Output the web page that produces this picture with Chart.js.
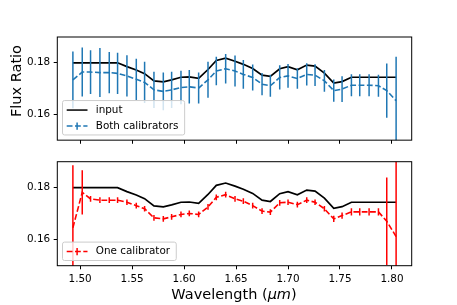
<!DOCTYPE html>
<html>
<head>
<meta charset="utf-8">
<script src="https://cdn.jsdelivr.net/npm/chart.js@4.4.0/dist/chart.umd.min.js"></script>
<style>
body { margin: 0; background: #fff; }
#wrap { position: relative; width: 457px; height: 305px; font-family: "DejaVu Sans", sans-serif; color: #000; }
#top { position: absolute; left: 0; top: 0; }
#bot { position: absolute; left: 0; top: 150px; }
#ylab { position: absolute; left: 16px; top: 81px; transform: translate(-50%, -50%) rotate(-90deg); font-size: 14.5px; white-space: nowrap; }
#xlab { position: absolute; left: 234px; top: 294px; transform: translate(-50%, -50%); font-size: 14.5px; white-space: nowrap; }
</style>
</head>
<body>
<div id="wrap">
  <canvas id="top" width="457" height="150"></canvas>
  <canvas id="bot" width="457" height="155"></canvas>
  <div id="ylab">Flux Ratio</div>
  <div id="xlab">Wavelength (<i>μm</i>)</div>
</div>
<script>
// wavelengths of the spectral channels (um)
const wavelength = [1.493, 1.502, 1.510, 1.519, 1.528, 1.536, 1.545, 1.554, 1.562, 1.571,
  1.580, 1.588, 1.597, 1.605, 1.614, 1.623, 1.631, 1.640, 1.649, 1.657,
  1.666, 1.675, 1.683, 1.692, 1.700, 1.709, 1.718, 1.726, 1.735, 1.744,
  1.752, 1.761, 1.769, 1.778, 1.787, 1.795, 1.804];

const inputFlux = [0.1800, 0.1800, 0.1800, 0.1800, 0.1800, 0.1800, 0.1785, 0.1772, 0.1758, 0.1730,
  0.1726, 0.1734, 0.1744, 0.1745, 0.1740, 0.1774, 0.1809, 0.1818, 0.1806, 0.1794,
  0.1778, 0.1752, 0.1747, 0.1777, 0.1785, 0.1773, 0.1791, 0.1787, 0.1760, 0.1721,
  0.1727, 0.1744, 0.1744, 0.1744, 0.1744, 0.1744, 0.1744];

const bothFlux = [0.1734, 0.1764, 0.1764, 0.1762, 0.1762, 0.1759, 0.1749, 0.1736, 0.1724, 0.1695,
  0.1689, 0.1695, 0.1704, 0.1707, 0.1702, 0.1734, 0.1768, 0.1777, 0.1768, 0.1755,
  0.1743, 0.1717, 0.1711, 0.1743, 0.1749, 0.1739, 0.1755, 0.1752, 0.1730, 0.1692,
  0.1698, 0.1713, 0.1713, 0.1713, 0.1711, 0.1692, 0.1653];

const bothErr = [0.0110, 0.0095, 0.0085, 0.0095, 0.0080, 0.0080, 0.0080, 0.0080, 0.0080, 0.0070,
  0.0073, 0.0070, 0.0065, 0.0065, 0.0060, 0.0070, 0.0055, 0.0057, 0.0060, 0.0056,
  0.0050, 0.0043, 0.0043, 0.0047, 0.0046, 0.0040, 0.0043, 0.0042, 0.0042, 0.0043,
  0.0050, 0.0043, 0.0043, 0.0043, 0.0043, 0.0105, 0.0170];

const oneFlux = [0.1646, 0.1782, 0.1757, 0.1752, 0.1752, 0.1752, 0.1744, 0.1731, 0.1719, 0.1684,
  0.1680, 0.1688, 0.1697, 0.1701, 0.1697, 0.1726, 0.1763, 0.1773, 0.1757, 0.1748,
  0.1731, 0.1710, 0.1706, 0.1742, 0.1744, 0.1735, 0.1752, 0.1744, 0.1719, 0.1680,
  0.1693, 0.1707, 0.1707, 0.1707, 0.1707, 0.1671, 0.1612];

const oneErr = [0.0240, 0.0085, 0.0011, 0.0011, 0.0011, 0.0011, 0.0011, 0.0011, 0.0011, 0.0011,
  0.0011, 0.0011, 0.0011, 0.0011, 0.0011, 0.0011, 0.0011, 0.0011, 0.0011, 0.0011,
  0.0011, 0.0011, 0.0011, 0.0011, 0.0011, 0.0011, 0.0011, 0.0011, 0.0011, 0.0012,
  0.0012, 0.0014, 0.0014, 0.0014, 0.0014, 0.0168, 0.0350];

const xTicks = [1.50, 1.55, 1.60, 1.65, 1.70, 1.75, 1.80];
const yTicks = [0.16, 0.18];

const FONT = '"DejaVu Sans", sans-serif';
const BLUE = '#1f77b4';
const RED = '#ff0000';
const DASH = [5.8, 2.5];

function pts(vals) {
  return wavelength.map((w, i) => ({ x: w, y: vals[i] }));
}

// vertical error bars, drawn with the chart's own scales
const errorBars = {
  id: 'errorBars',
  afterDatasetsDraw(chart) {
    const { ctx, chartArea, scales } = chart;
    ctx.save();
    ctx.beginPath();
    ctx.rect(chartArea.left, chartArea.top, chartArea.right - chartArea.left, chartArea.bottom - chartArea.top);
    ctx.clip();
    chart.data.datasets.forEach(ds => {
      if (!ds.errs) return;
      ctx.strokeStyle = ds.borderColor;
      ctx.lineWidth = 1.5;
      ctx.setLineDash([]);
      ds.data.forEach((p, i) => {
        const x = scales.x.getPixelForValue(p.x);
        ctx.beginPath();
        ctx.moveTo(x, scales.y.getPixelForValue(p.y - ds.errs[i]));
        ctx.lineTo(x, scales.y.getPixelForValue(p.y + ds.errs[i]));
        ctx.stroke();
      });
    });
    ctx.restore();
  }
};

// axes box + matplotlib-like legend in lower left corner
const boxLegend = {
  id: 'boxLegend',
  afterDraw(chart) {
    const { ctx, chartArea: a } = chart;
    ctx.save();
    ctx.strokeStyle = '#000';
    ctx.lineWidth = 1;
    ctx.setLineDash([]);
    ctx.strokeRect(a.left, a.top, a.right - a.left, a.bottom - a.top);

    const fs = 10.4;
    ctx.font = fs + 'px ' + FONT;
    const dsets = chart.data.datasets.filter(d => d.inLegend !== false);
    const rowH = 16;
    const pad = 4.2;
    const handleW = 20.8;
    const textW = Math.max(...dsets.map(d => ctx.measureText(d.label).width));
    const w = pad * 2 + handleW + 8.3 + textW + 2;
    const h = rowH * dsets.length + 2.4;
    const bx = a.left + 5.2;
    const by = a.bottom - 5.2 - h;

    ctx.fillStyle = 'rgba(255,255,255,0.8)';
    ctx.strokeStyle = '#cccccc';
    ctx.beginPath();
    ctx.roundRect(bx, by, w, h, 2);
    ctx.fill();
    ctx.stroke();

    dsets.forEach((d, i) => {
      const cy = by + 1.2 + rowH * (i + 0.5) + 0.3;
      const hx = bx + pad;
      ctx.strokeStyle = d.borderColor;
      ctx.lineWidth = 1.5;
      ctx.setLineDash(d.borderDash || []);
      ctx.beginPath();
      ctx.moveTo(hx, cy);
      ctx.lineTo(hx + handleW, cy);
      ctx.stroke();
      if (d.errs) {
        ctx.setLineDash([]);
        ctx.beginPath();
        ctx.moveTo(hx + handleW / 2, cy - 3.6);
        ctx.lineTo(hx + handleW / 2, cy + 3.6);
        ctx.stroke();
      }
      ctx.fillStyle = '#000';
      ctx.textBaseline = 'middle';
      ctx.fillText(d.label, hx + handleW + 8.3, cy);
    });
    ctx.restore();
  }
};

function makeChart(id, datasets, padTop, xHeight, showXLabels) {
  return new Chart(document.getElementById(id), {
    type: 'line',
    data: { datasets: datasets },
    options: {
      responsive: false,
      animation: false,
      layout: { padding: { left: 0, right: 45.3, top: padTop, bottom: 0 } },
      plugins: { legend: { display: false }, tooltip: { enabled: false } },
      elements: { point: { radius: 0 }, line: { tension: 0 } },
      scales: {
        x: {
          type: 'linear',
          min: 1.478,
          max: 1.819,
          afterBuildTicks: s => { s.ticks = xTicks.map(v => ({ value: v })); },
          afterFit: s => { s.height = xHeight; },
          border: { display: false },
          grid: { drawOnChartArea: false, drawTicks: true, tickLength: 3.6, tickColor: '#000', tickWidth: 1 },
          ticks: {
            display: showXLabels,
            padding: 3.6,
            color: '#000',
            font: { family: FONT, size: 10.4 },
            maxRotation: 0,
            callback: v => v.toFixed(2)
          }
        },
        y: {
          min: 0.150,
          max: 0.190,
          afterBuildTicks: s => { s.ticks = yTicks.map(v => ({ value: v })); },
          afterFit: s => { s.width = 57.3; },
          border: { display: false },
          grid: { drawOnChartArea: false, drawTicks: true, tickLength: 3.6, tickColor: '#000', tickWidth: 1 },
          ticks: {
            padding: 3.6,
            color: '#000',
            font: { family: FONT, size: 10.4 },
            callback: v => v.toFixed(2)
          }
        }
      }
    },
    plugins: [errorBars, boxLegend]
  });
}

makeChart('top', [
  { label: 'input', data: pts(inputFlux), borderColor: '#000', borderWidth: 1.7, order: 1 },
  { label: 'Both calibrators', data: pts(bothFlux), errs: bothErr, borderColor: BLUE, borderWidth: 1.6, borderDash: DASH, order: 0 }
], 37, 8.3, false);

makeChart('bot', [
  { label: 'input', data: pts(inputFlux), borderColor: '#000', borderWidth: 1.7, order: 1, inLegend: false },
  { label: 'One calibrator', data: pts(oneFlux), errs: oneErr, borderColor: RED, borderWidth: 1.6, borderDash: DASH, order: 0 }
], 11.7, 39.3, true);
</script>
</body>
</html>
